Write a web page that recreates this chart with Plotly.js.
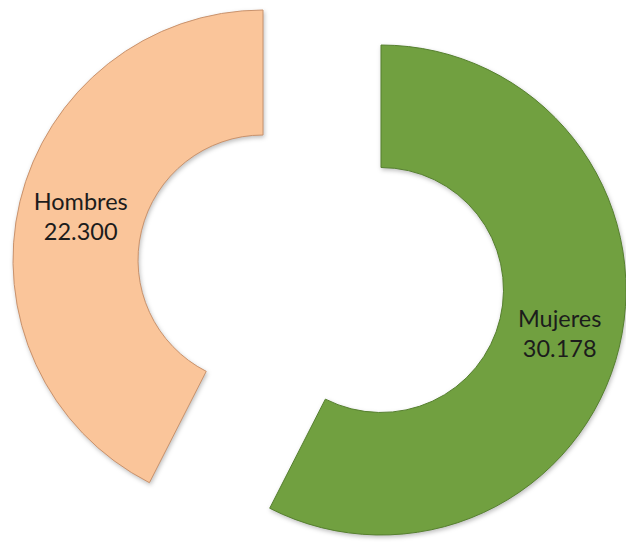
<!DOCTYPE html>
<html>
<head>
<meta charset="utf-8">
<script src="https://cdn.plot.ly/plotly-3.0.1.min.js"></script>
<style>
  html, body { margin: 0; padding: 0; background: #ffffff; overflow: hidden; }
  #chart { width: 626px; height: 544px; }
</style>
</head>
<body>
<div id="chart"></div>
<script>
// Data
var categories = ['Hombres', 'Mujeres'];
var values = [22300, 30178];

// Styles
var fillColors = ['#FAC59A', '#71A040'];
var lineColors = ['#C9926C', '#557F2E'];
var clear = 'rgba(0,0,0,0)';

var total = values.reduce(function (a, b) { return a + b; }, 0);
// Hombres ends at 12 o'clock, Mujeres starts there
var startRotation = -360 * values[0] / total;

function ringTrace(showIndex, domain) {
  var colors = categories.map(function (c, i) { return i === showIndex ? fillColors[i] : clear; });
  var lines = categories.map(function (c, i) { return i === showIndex ? lineColors[i] : clear; });
  var templates = categories.map(function (c, i) { return i === showIndex ? '%{label}<br>%{value:,.0f}' : ''; });
  return {
    type: 'pie',
    labels: categories,
    values: values,
    hole: 0.5,
    sort: false,
    direction: 'counterclockwise',
    rotation: startRotation,
    domain: domain,
    marker: { colors: colors, line: { color: lines, width: 1 } },
    texttemplate: templates,
    textposition: 'inside',
    insidetextorientation: 'horizontal',
    textfont: { family: 'Lato, "Open Sans", sans-serif', size: 23.5, color: '#1c1c1c' },
    hoverinfo: 'label+value',
    showlegend: false
  };
}

var data = [
  ringTrace(0, { x: [0.0208, 0.8195], y: [0.0625, 0.9816] }),
  ringTrace(1, { x: [0.2173, 1.0], y: [0.0165, 0.9173] })
];

var layout = {
  width: 626,
  height: 544,
  margin: { l: 0, r: 0, t: 0, b: 0, pad: 0 },
  paper_bgcolor: '#ffffff',
  plot_bgcolor: '#ffffff',
  separators: ',.',
  showlegend: false
};

Plotly.newPlot('chart', data, layout, { displayModeBar: false, staticPlot: true }).then(function () {
  var paths = document.querySelectorAll('.pielayer path.surface');
  paths.forEach(function (p) {
    p.style.filter = 'drop-shadow(1px 2px 2px rgba(0,0,0,0.25))';
  });
});
</script>
</body>
</html>
